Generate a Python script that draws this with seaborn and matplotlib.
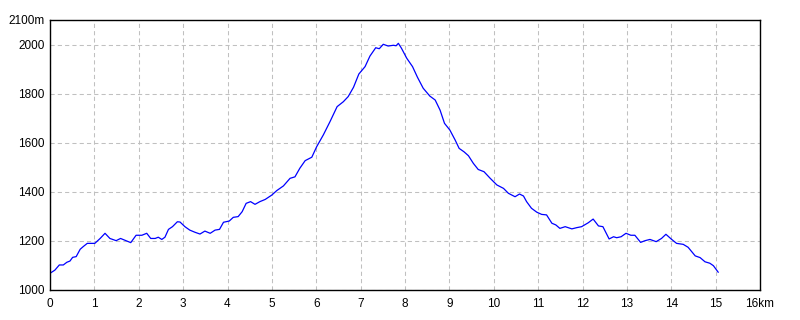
import matplotlib
matplotlib.use("Agg")
import matplotlib.pyplot as plt
import seaborn as sns
import pandas as pd

# distance along the route (km) and elevation (m)
distance_km = [0.00, 0.11, 0.21, 0.30, 0.38, 0.45, 0.51, 0.59, 0.68, 0.75, 0.84, 1.01,
               1.13, 1.24, 1.35, 1.49, 1.59, 1.71, 1.82, 1.94, 2.07, 2.18, 2.27, 2.37,
               2.44, 2.52, 2.59, 2.67, 2.76, 2.87, 2.93, 3.04, 3.15, 3.27, 3.38, 3.49,
               3.61, 3.72, 3.82, 3.91, 4.04, 4.13, 4.24, 4.33, 4.42, 4.52, 4.62, 4.73,
               4.85, 5.00, 5.11, 5.26, 5.41, 5.52, 5.63, 5.75, 5.90, 6.01, 6.16, 6.31,
               6.47, 6.61, 6.72, 6.84, 6.96, 7.10, 7.21, 7.34, 7.42, 7.51, 7.62, 7.74,
               7.80, 7.85, 7.92, 8.04, 8.17, 8.28, 8.41, 8.56, 8.68, 8.79, 8.89, 9.01,
               9.13, 9.22, 9.33, 9.43, 9.54, 9.65, 9.78, 9.92, 10.07, 10.22, 10.33,
               10.48, 10.58, 10.67, 10.74, 10.85, 10.97, 11.08, 11.19, 11.31, 11.40,
               11.49, 11.61, 11.76, 11.87, 11.98, 12.13, 12.24, 12.36, 12.46, 12.60,
               12.70, 12.77, 12.87, 12.98, 13.09, 13.18, 13.31, 13.41, 13.52, 13.66,
               13.78, 13.88, 14.01, 14.12, 14.27, 14.38, 14.54, 14.65, 14.76, 14.87,
               14.95, 15.06]
elevation_m = [1068, 1081, 1102, 1102, 1113, 1118, 1133, 1136, 1166, 1177, 1190, 1190,
               1210, 1231, 1210, 1201, 1210, 1201, 1193, 1223, 1223, 1231, 1210, 1210,
               1215, 1206, 1215, 1247, 1258, 1278, 1277, 1258, 1244, 1235, 1228, 1240,
               1231, 1244, 1247, 1276, 1281, 1296, 1299, 1319, 1353, 1360, 1349, 1360,
               1369, 1387, 1405, 1424, 1455, 1461, 1496, 1527, 1541, 1584, 1632, 1686,
               1747, 1767, 1788, 1826, 1880, 1910, 1953, 1987, 1983, 2001, 1994, 1997,
               1995, 2005, 1985, 1944, 1910, 1867, 1822, 1790, 1774, 1733, 1679, 1652,
               1611, 1577, 1563, 1547, 1516, 1491, 1482, 1455, 1428, 1414, 1394,
               1380, 1391, 1383, 1360, 1333, 1317, 1308, 1306, 1272, 1265,
               1251, 1258, 1249, 1254, 1258, 1274, 1289, 1261, 1258, 1208,
               1217, 1213, 1217, 1231, 1223, 1223, 1194, 1201, 1206, 1197,
               1210, 1227, 1206, 1190, 1186, 1174, 1139, 1132, 1115, 1109,
               1099, 1072]

x_ticks = list(range(0, 17))
x_tick_labels = [str(v) for v in range(0, 16)] + ["16km"]
y_ticks = [1000, 1200, 1400, 1600, 1800, 2000, 2100]
y_tick_labels = ["1000", "1200", "1400", "1600", "1800", "2000", "2100m"]

sns.set_style("white")
plt.rcParams["font.family"] = ["Liberation Sans", "DejaVu Sans"]

df = pd.DataFrame({"km": distance_km, "m": elevation_m})

fig = plt.figure(figsize=(8, 3.2), dpi=100)
ax = fig.add_axes([50 / 800, 30 / 320, 710 / 800, 270 / 320])

sns.lineplot(data=df, x="km", y="m", ax=ax, color="#0000ff", linewidth=0.9)

ax.set_xlim(0, 16)
ax.set_ylim(1000, 2100)
ax.set_xticks(x_ticks)
ax.set_xticklabels(x_tick_labels)
ax.set_yticks(y_ticks)
ax.set_yticklabels(y_tick_labels)
ax.set_xlabel("")
ax.set_ylabel("")

ax.grid(True, color="#c0c0c0", linestyle=(0, (4, 3)), linewidth=0.75)
ax.set_axisbelow(True)
for s in ax.spines.values():
    s.set_color("black")
    s.set_linewidth(1.0)
    s.set_visible(True)
ax.tick_params(axis="both", length=0, labelsize=8.5, colors="black")
ax.tick_params(axis="x", pad=6)
ax.tick_params(axis="y", pad=4)

fig.savefig("out.png", dpi=100, facecolor="white")
